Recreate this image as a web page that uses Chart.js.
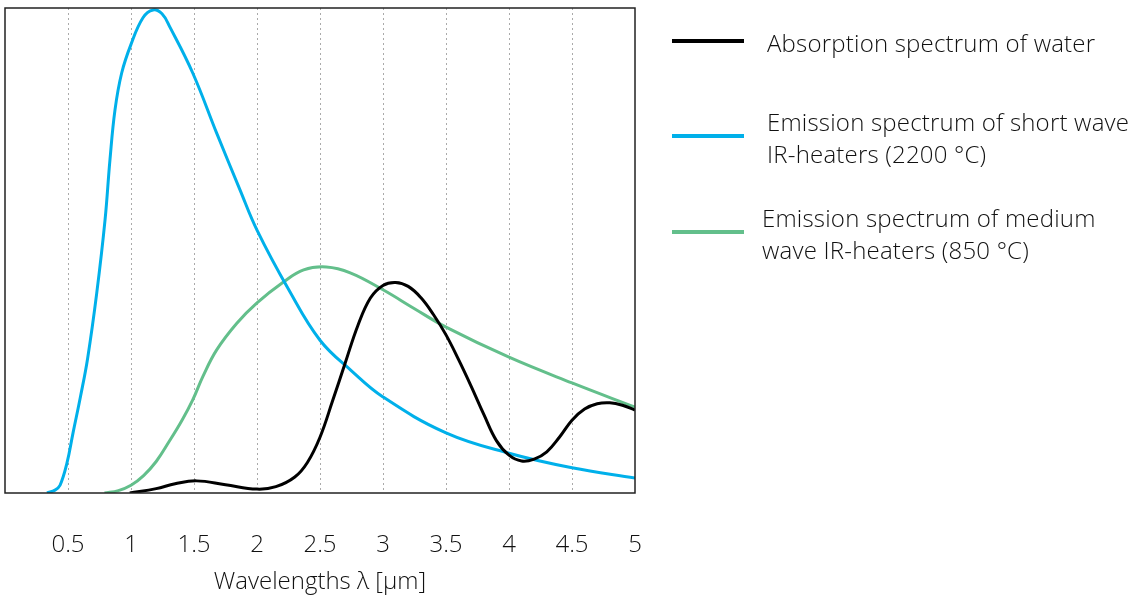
<!DOCTYPE html>
<html>
<head>
<meta charset="utf-8">
<script src="https://cdn.jsdelivr.net/npm/chart.js@4"></script>
<style>
  html, body { margin: 0; padding: 0; background: #fff; }
  #wrap { position: relative; width: 1133px; height: 597px; }
  .leg { position: absolute; font-family: "Open Sans", sans-serif; font-weight: 300; font-size: 24px; letter-spacing: 0.2px; line-height: 32px; color: #111; white-space: nowrap; }
  .swatch { position: absolute; left: 672px; width: 72px; height: 4px; }
</style>
</head>
<body>
<div id="wrap">
  <canvas id="chart" width="1133" height="597"></canvas>
  <div class="swatch" style="top:39px;background:#000"></div>
  <div class="leg" style="left:767px;top:27px">Absorption spectrum of water</div>
  <div class="swatch" style="top:134px;background:#00b0ea"></div>
  <div class="leg" style="left:767px;top:106px">Emission spectrum of short wave<br>IR-heaters (2200 °C)</div>
  <div class="swatch" style="top:230px;background:#63bf8b"></div>
  <div class="leg" style="left:762px;top:202px">Emission spectrum of medium<br>wave IR-heaters (850 °C)</div>
</div>
<script>
// wavelength (µm) and relative intensity
const waterX = [0.99, 1.2, 1.35, 1.52, 1.75, 2.0, 2.15, 2.3, 2.4, 2.5, 2.6, 2.7, 2.8, 2.9, 3.0, 3.1, 3.2, 3.3, 3.4, 3.5, 3.6, 3.7, 3.8, 3.9, 4.0, 4.1, 4.2, 4.3, 4.4, 4.5, 4.6, 4.7, 4.8, 4.9, 5.0]
const waterY = [0, 0.9, 1.9, 2.5, 1.7, 0.8, 1.3, 3.3, 6.3, 11.5, 19, 26.8, 34.5, 40.2, 42.8, 43.4, 42.6, 40.3, 36.8, 32.6, 27.5, 22, 16.2, 10.8, 7.8, 6.6, 7, 8.5, 11.5, 15, 17.3, 18.4, 18.6, 18.1, 17.1]

const shortX = [0.333, 0.397, 0.437, 0.492, 0.54, 0.6, 0.656, 0.728, 0.794, 0.833, 0.873, 0.926, 1.0, 1.095, 1.175, 1.246, 1.31, 1.49, 1.68, 1.865, 2.0, 2.25, 2.5, 2.75, 3.0, 3.5, 4.0, 4.5, 5.0]
const shortY = [0, 0.6, 1.6, 6.2, 12.4, 20, 27.8, 41.2, 56.3, 68.7, 79, 86.6, 92.5, 98, 99.6, 98.8, 96, 86.6, 74.2, 62.5, 54.2, 42, 31.5, 25.2, 19.8, 12.4, 8.2, 5.2, 3.1]

const mediumX = [0.79, 0.9, 1.0, 1.1, 1.2, 1.3, 1.405, 1.49, 1.57, 1.68, 1.84, 2.0, 2.21, 2.37, 2.55, 2.74, 3.0, 3.25, 3.5, 4.0, 4.5, 5.0]
const mediumY = [0, 0.5, 1.6, 3.6, 6.5, 10.5, 15, 19.2, 24, 29.5, 35, 39.2, 43.5, 46, 46.6, 45.4, 41.9, 38, 34.2, 28, 22.7, 17.7]

const tickValues = [0.5, 1, 1.5, 2, 2.5, 3, 3.5, 4, 4.5, 5]

function toPoints(xs, ys) {
    return xs.map((x, i) => ({ x: x, y: ys[i] }))
}

const frame = {
    id: 'frame',
    afterDatasetsDraw(chart) {
        const a = chart.chartArea
        const ctx = chart.ctx
        ctx.save()
        ctx.strokeStyle = '#222'
        ctx.lineWidth = 1.5
        ctx.strokeRect(a.left, a.top, a.right - a.left, a.bottom - a.top)
        ctx.restore()
    }
}

const lineStyle = {
    pointRadius: 0,
    borderWidth: 3,
    fill: false,
    tension: 0.4
}

const axisFont = { family: 'Open Sans', weight: 300, size: 24 }

new Chart(document.getElementById('chart'), {
    type: 'line',
    data: {
        datasets: [
            { ...lineStyle, label: 'Absorption spectrum of water', data: toPoints(waterX, waterY), borderColor: '#000' },
            { ...lineStyle, label: 'Emission spectrum of short wave IR-heaters (2200 °C)', data: toPoints(shortX, shortY), borderColor: '#00b0ea' },
            { ...lineStyle, label: 'Emission spectrum of medium wave IR-heaters (850 °C)', data: toPoints(mediumX, mediumY), borderColor: '#63bf8b' }
        ]
    },
    options: {
        responsive: false,
        animation: false,
        layout: { padding: { left: 5, top: 8, right: 498, bottom: 0 } },
        plugins: {
            legend: { display: false },
            tooltip: { enabled: false }
        },
        scales: {
            x: {
                type: 'linear',
                min: 0,
                max: 5,
                afterBuildTicks: axis => { axis.ticks = [0].concat(tickValues).map(v => ({ value: v })) },
                ticks: {
                    callback: v => v === 0 ? '' : String(v),
                    // tall line box pushes the labels well below the frame
                    font: { ...axisFont, lineHeight: 104 / 24 },
                    color: '#111',
                    padding: 0,
                    maxRotation: 0
                },
                grid: {
                    drawTicks: false,
                    color: ctx => (ctx.tick && (ctx.tick.value === 0 || ctx.tick.value === 5)) ? 'rgba(0,0,0,0)' : '#aaaaaa',
                    lineWidth: 1
                },
                border: { display: false, dash: [2, 3] },
                title: {
                    display: true,
                    text: 'Wavelengths λ [µm]',
                    font: axisFont,
                    color: '#111',
                    padding: { top: -28.8, bottom: 0 }
                }
            },
            y: {
                display: false,
                min: 0,
                max: 100
            }
        }
    },
    plugins: [frame]
});
</script>
</body>
</html>
